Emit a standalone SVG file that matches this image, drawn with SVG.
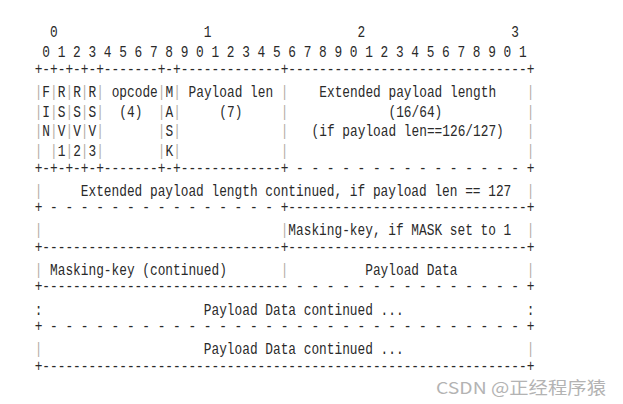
<svg xmlns="http://www.w3.org/2000/svg" width="623" height="404" viewBox="0 0 623 404">
<style>
  .t { font-family: "Liberation Mono", "DejaVu Sans Mono", monospace; font-size: 16.5px; fill: #2a2a2a; white-space: pre; }
  .p { fill: #b4aea6; }
  .wm { font-family: "Noto Sans CJK SC", "Noto Sans", sans-serif; font-size: 16.5px; fill: #b3b3b3; }
</style>
<rect width="623" height="404" fill="#ffffff"/>
<g id="frame" transform="translate(34.65,0) scale(0.7768,1)">
  <g id="header">
    <text class="t" xml:space="preserve" x="0" y="37.5">  0                   1                   2                   3</text>
    <text class="t" xml:space="preserve" x="0" y="57.3"> 0 1 2 3 4 5 6 7 8 9 0 1 2 3 4 5 6 7 8 9 0 1 2 3 4 5 6 7 8 9 0 1</text>
  </g>
  <g id="connectors">
    <text class="t" xml:space="preserve" x="0" y="73.6">+-+-+-+-+-------+-+-------------+-------------------------------+</text>
    <text class="t" xml:space="preserve" x="0" y="172.6">+-+-+-+-+-------+-+-------------+ - - - - - - - - - - - - - - - +</text>
    <text class="t" xml:space="preserve" x="0" y="212.2">+ - - - - - - - - - - - - - - - +-------------------------------+</text>
    <text class="t" xml:space="preserve" x="0" y="251.8">+-------------------------------+-------------------------------+</text>
    <text class="t" xml:space="preserve" x="0" y="291.4">+-------------------------------- - - - - - - - - - - - - - - - +</text>
    <text class="t" xml:space="preserve" x="0" y="331.0">+ - - - - - - - - - - - - - - - - - - - - - - - - - - - - - - - +</text>
    <text class="t" xml:space="preserve" x="0" y="370.6">+---------------------------------------------------------------+</text>
  </g>
  <g id="row-header-fields">
    <text class="t" xml:space="preserve" x="0" y="96.9"><tspan class="p">|</tspan>F<tspan class="p">|</tspan>R<tspan class="p">|</tspan>R<tspan class="p">|</tspan>R<tspan class="p">|</tspan> opcode<tspan class="p">|</tspan>M<tspan class="p">|</tspan> Payload len <tspan class="p">|</tspan>    Extended payload length    <tspan class="p">|</tspan></text>
    <text class="t" xml:space="preserve" x="0" y="116.7"><tspan class="p">|</tspan>I<tspan class="p">|</tspan>S<tspan class="p">|</tspan>S<tspan class="p">|</tspan>S<tspan class="p">|</tspan>  (4)  <tspan class="p">|</tspan>A<tspan class="p">|</tspan>     (7)     <tspan class="p">|</tspan>             (16/64)           <tspan class="p">|</tspan></text>
    <text class="t" xml:space="preserve" x="0" y="136.5"><tspan class="p">|</tspan>N<tspan class="p">|</tspan>V<tspan class="p">|</tspan>V<tspan class="p">|</tspan>V<tspan class="p">|</tspan>       <tspan class="p">|</tspan>S<tspan class="p">|</tspan>             <tspan class="p">|</tspan>   (if payload len==126/127)   <tspan class="p">|</tspan></text>
    <text class="t" xml:space="preserve" x="0" y="156.3"><tspan class="p">|</tspan> <tspan class="p">|</tspan>1<tspan class="p">|</tspan>2<tspan class="p">|</tspan>3<tspan class="p">|</tspan>       <tspan class="p">|</tspan>K<tspan class="p">|</tspan>             <tspan class="p">|</tspan>                               <tspan class="p">|</tspan></text>
  </g>
  <g id="row-ext-len">
    <text class="t" xml:space="preserve" x="0" y="195.9"><tspan class="p">|</tspan>     Extended payload length continued, if payload len == 127  <tspan class="p">|</tspan></text>
  </g>
  <g id="row-mask-key">
    <text class="t" xml:space="preserve" x="0" y="235.5"><tspan class="p">|</tspan>                               <tspan class="p">|</tspan>Masking-key, if MASK set to 1  <tspan class="p">|</tspan></text>
  </g>
  <g id="row-mask-cont">
    <text class="t" xml:space="preserve" x="0" y="275.1"><tspan class="p">|</tspan> Masking-key (continued)       <tspan class="p">|</tspan>          Payload Data         <tspan class="p">|</tspan></text>
  </g>
  <g id="row-payload-1">
    <text class="t" xml:space="preserve" x="0" y="314.7">:                     Payload Data continued ...                :</text>
  </g>
  <g id="row-payload-2">
    <text class="t" xml:space="preserve" x="0" y="354.3"><tspan class="p">|</tspan>                     Payload Data continued ...                <tspan class="p">|</tspan></text>
  </g>
</g>
<text class="wm" x="436" y="394" textLength="170" lengthAdjust="spacingAndGlyphs">CSDN @正经程序猿</text>
</svg>
